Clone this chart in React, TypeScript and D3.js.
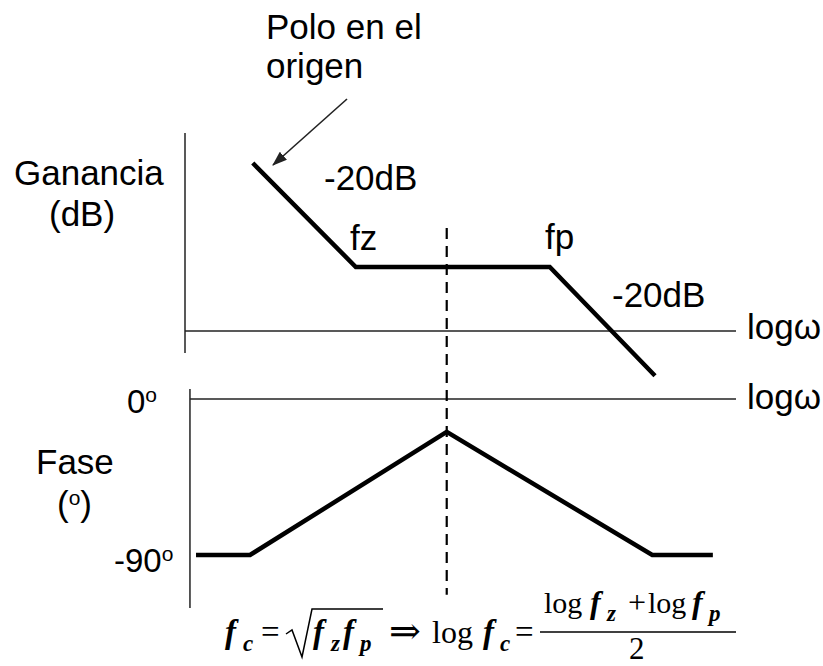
import React from "react";
import * as d3 from "d3";

// Asymptotic Bode sketch: pole at the origin, a zero at fz and a pole at fp.
const W = 823;
const H = 666;

// Magnitude asymptotes (x in relative log-frequency units, y in dB)
const gainX = [12.3, 31.0, 66.2, 85.3];
const gainDb = [52.5, 20, 20, -14];

// Phase asymptotes (degrees)
const phaseX = [2.0, 11.8, 47.5, 84.8, 95.8];
const phaseDeg = [-90, -90, -19, -90, -90];

// Geometric mean of fz and fp
const fcX = 47.5;

const SANS = "'Liberation Sans', Arial, Helvetica, sans-serif";
const SERIF = "'Liberation Serif', 'Times New Roman', Times, serif";

export default function App() {
  const x = d3.scaleLinear().domain([0, 100]).range([185, 736]);
  const yGain = d3.scaleLinear().domain([0, 20]).range([331, 267]);
  const yPhase = d3.scaleLinear().domain([0, -90]).range([399, 555]);

  const gainLine = d3
    .line<number>()
    .x((_, i) => x(gainX[i]))
    .y((d) => yGain(d));
  const phaseLine = d3
    .line<number>()
    .x((_, i) => x(phaseX[i]))
    .y((d) => yPhase(d));

  const axisStroke = "#222";
  const txt = { fontFamily: SANS, fontSize: 35, fill: "#000" } as const;
  const bi = { fontWeight: "bold", fontStyle: "italic" } as const;
  const SUB = 8;

  return (
    <svg
      width={W}
      height={H}
      viewBox={`0 0 ${W} ${H}`}
      style={{ position: "absolute", left: 0, top: 0, background: "#fff" }}
    >
      <defs>
        <marker
          id="arrowHead"
          viewBox="0 0 14 10"
          refX="13"
          refY="5"
          markerWidth="15"
          markerHeight="11"
          markerUnits="userSpaceOnUse"
          orient="auto"
        >
          <path d="M0,0 L14,5 L0,10 Z" fill="#222" />
        </marker>
      </defs>

      {/* magnitude axes */}
      <line x1={x(0)} x2={x(0)} y1={yGain(61.9)} y2={yGain(-6.9)} stroke={axisStroke} strokeWidth={1.5} />
      <line x1={x(0)} x2={x(100)} y1={yGain(0)} y2={yGain(0)} stroke={axisStroke} strokeWidth={1.5} />

      {/* phase axes */}
      <line x1={x(0.9)} x2={x(0.9)} y1={yPhase(5.8)} y2={yPhase(-120.6)} stroke={axisStroke} strokeWidth={1.5} />
      <line x1={x(0.9)} x2={x(100)} y1={yPhase(0)} y2={yPhase(0)} stroke={axisStroke} strokeWidth={1.5} />

      {/* fc marker */}
      <line
        x1={x(fcX)}
        x2={x(fcX)}
        y1={228}
        y2={yPhase(-113)}
        stroke="#000"
        strokeWidth={2.2}
        strokeDasharray="11 7"
      />

      {/* asymptotic curves */}
      <path d={gainLine(gainDb) ?? ""} fill="none" stroke="#000" strokeWidth={4.5} strokeLinejoin="miter" />
      <path d={phaseLine(phaseDeg) ?? ""} fill="none" stroke="#000" strokeWidth={4.5} strokeLinejoin="miter" />

      {/* annotation arrow */}
      <line x1={347} y1={99} x2={273} y2={165} stroke="#222" strokeWidth={1.6} markerEnd="url(#arrowHead)" />

      {/* labels */}
      <text x={266} y={39} {...txt}>Polo en el</text>
      <text x={266} y={78} {...txt}>origen</text>
      <text x={14} y={185} {...txt}>Ganancia</text>
      <text x={49} y={226} {...txt}>(dB)</text>
      <text x={324} y={190} {...txt}>-20dB</text>
      <text x={350} y={250} {...txt}>fz</text>
      <text x={545} y={249} {...txt}>fp</text>
      <text x={612} y={307} {...txt}>-20dB</text>
      <text x={747} y={339} {...txt}>logω</text>
      <text x={747} y={409} {...txt}>logω</text>

      <text x={127} y={413} {...txt} fontSize={33}>
        0<tspan fontSize={21} dy={-11}>o</tspan>
      </text>
      <text x={36} y={474} {...txt}>Fase</text>
      <text x={57} y={516} {...txt}>
        (<tspan fontSize={21} dy={-11}>o</tspan>
        <tspan dy={11}>)</tspan>
      </text>
      <text x={114} y={572} {...txt} fontSize={33}>
        -90<tspan fontSize={21} dy={-11}>o</tspan>
      </text>

      {/* fc = sqrt(fz fp)  =>  log fc = (log fz + log fp)/2 */}
      <g fontFamily={SERIF} fill="#000">
        <text y={643} fontSize={33}>
          <tspan x={225} {...bi}>f</tspan>
          <tspan x={243} dy={SUB} fontSize={23} {...bi}>c</tspan>
          <tspan x={261} dy={-SUB}>=</tspan>
        </text>
        <path d="M286,634 L292,630 L302,657 L312,609 L383,609" fill="none" stroke="#000" strokeWidth={1.5} />
        <text y={643} fontSize={33}>
          <tspan x={313} {...bi}>f</tspan>
          <tspan x={331} dy={SUB} fontSize={23} {...bi}>z</tspan>
          <tspan x={343} dy={-SUB} {...bi}>f</tspan>
          <tspan x={360} dy={SUB} fontSize={23} {...bi}>p</tspan>
        </text>
        <text x={389} y={644} fontSize={38} fontFamily="'DejaVu Serif', 'DejaVu Sans', serif">⇒</text>
        <text y={643} fontSize={32}>
          <tspan x={432}>log</tspan>
          <tspan x={483} fontSize={33} {...bi}>f</tspan>
          <tspan x={500} dy={SUB} fontSize={23} {...bi}>c</tspan>
          <tspan x={515} dy={-SUB} fontSize={33}>=</tspan>
        </text>
        <line x1={540} x2={736} y1={632} y2={632} stroke="#000" strokeWidth={1.6} />
        <text y={613} fontSize={30}>
          <tspan x={544}>log</tspan>
          <tspan x={590} fontSize={32} {...bi}>f</tspan>
          <tspan x={607} dy={SUB} fontSize={23} {...bi}>z</tspan>
          <tspan x={628} dy={-SUB} fontSize={32}>+</tspan>
          <tspan x={648}>log</tspan>
          <tspan x={692} fontSize={32} {...bi}>f</tspan>
          <tspan x={709} dy={SUB} fontSize={23} {...bi}>p</tspan>
        </text>
        <text x={629} y={659} fontSize={31}>2</text>
      </g>
    </svg>
  );
}
